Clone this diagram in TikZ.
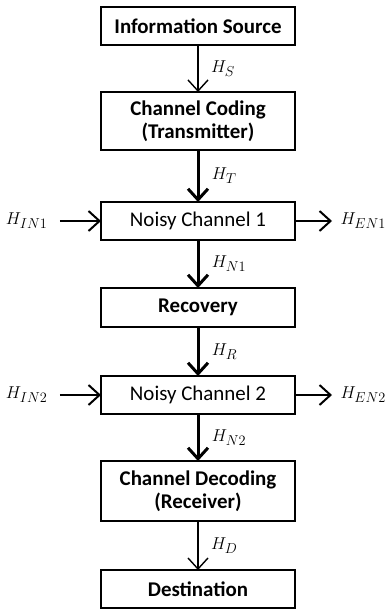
\documentclass[tikz,border=0pt]{standalone}
\usepackage{fontspec}
\setmainfont{Carlito}
\usetikzlibrary{arrows.meta, positioning}

\begin{document}
\begin{tikzpicture}[
        x=1bp, y=1bp,
        node distance=48bp,
        box/.style={draw, line width=2bp, outer sep=0pt, rectangle, minimum width=194bp, minimum height=38bp, align=center, font=\fontsize{21}{23}\selectfont\bfseries},
        plain/.style={box, font=\fontsize{21}{23}\selectfont},
        thinarrow/.style={-{Straight Barb[length=11bp, width=20bp]}, line width=1.4bp},
        thickarrow/.style={-{Straight Barb[length=11bp, width=20bp]}, line width=3bp},
        sidearrow/.style={-{Straight Barb[length=11bp, width=20bp]}, line width=2bp},
        lbl/.style={font=\fontsize{19}{22}\selectfont}
      ]
        \useasboundingbox (0,0) rectangle (389,-614);
        \node (src) [box] at (198,-26) {Information Source};
        \node (cod) [box, below=47bp of src, minimum height=58bp] {Channel Coding\\(Transmitter)};
        \node (nc1) [plain, below=52bp of cod] {Noisy Channel 1};
        \node (rec) [box, below=of nc1, minimum height=39bp] {Recovery};
        \node (nc2) [plain, below=49bp of rec] {Noisy Channel 2};
        \node (dec) [box, below=47bp of nc2, minimum height=60bp] {Channel Decoding\\(Receiver)};
        \node (dst) [box, below=49bp of dec] {Destination};

        % side inputs and outputs
        \node (hin1) [lbl, left=50bp of nc1.west] {$H_{IN1}$};
        \node (hen1) [lbl, right=42bp of nc1.east] {$H_{EN1}$};
        \node (hin2) [lbl, left=50bp of nc2.west] {$H_{IN2}$};
        \node (hen2) [lbl, right=42bp of nc2.east] {$H_{EN2}$};

        \draw [thinarrow] (src) -- node[lbl, right=9bp] {$H_S$} (cod);
        \draw [thickarrow] (cod) -- node[lbl, right=9bp] {$H_T$} (nc1);
        \draw [thickarrow] (nc1) -- node[lbl, right=9bp] {$H_{N1}$} (rec);
        \draw [thickarrow] (rec) -- node[lbl, right=9bp] {$H_R$} (nc2);
        \draw [thickarrow] (nc2) -- node[lbl, right=9bp] {$H_{N2}$} (dec);
        \draw [thinarrow] (dec) -- node[lbl, right=9bp] {$H_D$} (dst);

        \draw [sidearrow, shorten <=9bp] (hin1) -- (nc1);
        \draw [sidearrow, shorten >=5bp] (nc1) -- (hen1);
        \draw [sidearrow, shorten <=9bp] (hin2) -- (nc2);
        \draw [sidearrow, shorten >=5bp] (nc2) -- (hen2);
      \end{tikzpicture}
\end{document}
